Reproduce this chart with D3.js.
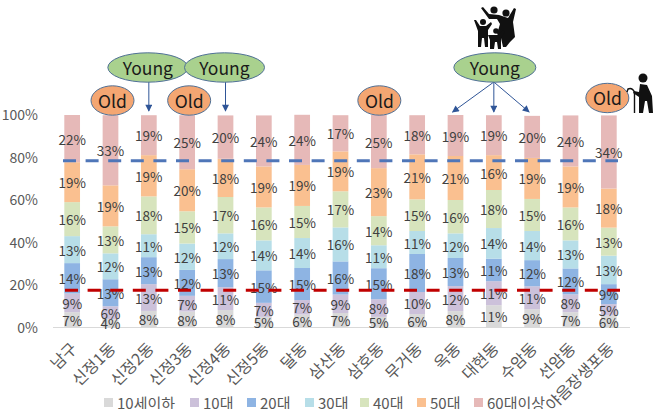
<!DOCTYPE html>
<html><head><meta charset="utf-8">
<script src="https://cdn.jsdelivr.net/npm/d3@7"></script>
<style>
html,body{margin:0;padding:0;background:#fff}
svg{display:block}
text{font-family:"Noto Sans CJK KR","Noto Sans",sans-serif}
</style></head><body>
<div id="chart"></div>
<script>
const categories=["남구","신정1동","신정2동","신정3동","신정4동","신정5동","달동","삼산동","삼호동","무거동","옥동","대현동","수암동","선암동","야음장생포동"];
const seriesNames=["10세이하","10대","20대","30대","40대","50대","60대이상"];
const seriesColors=["#D9D9D9","#CCC1DA","#8EB4E3","#B7DEE8","#D7E4BD","#FAC090","#E6B9B8"];
const under10=[7.2,3.9,7.8,7.5,8.2,5.0,6.1,6.8,5.0,6.3,7.7,10.5,8.6,7.2,5.6];
const teens=[8.8,6.1,12.6,7.4,10.8,6.6,6.8,8.7,8.3,10.4,11.8,11.3,10.8,8.4,5.4];
const twenties=[14.3,12.7,12.7,12.2,13.2,15.3,15.1,15.6,14.6,17.9,13.2,10.6,12.3,12.2,9.4];
const thirties=[12.7,12.2,10.8,12.4,12.1,14.1,14.1,16.0,10.8,10.8,11.6,14.4,13.7,13.2,13.4];
const forties=[16.0,12.7,17.8,15.2,17.1,15.5,15.1,17.0,13.7,14.9,15.7,17.9,15.1,15.5,13.2];
const fifties=[18.8,19.3,19.4,19.8,18.0,19.3,19.3,18.8,22.6,21.2,20.7,16.4,19.3,19.3,18.4];
const sixtyPlus=[22.2,33.0,18.8,25.4,20.4,24.0,23.6,17.0,25.0,18.4,19.3,18.8,19.8,24.0,34.4];
const seriesValues=[under10,teens,twenties,thirties,forties,fifties,sixtyPlus];
const yTicks=[0,20,40,60,80,100];
const youngLine=78.5, oldLine=17.5;
const oldMarks=["신정1동","신정3동","삼호동","야음장생포동"];
const youngMarks=["신정2동","신정4동"];
const youngGroupTargets=["옥동","대현동","수암동"];

const W=660,H=409;
const svg=d3.select("#chart").append("svg").attr("width",W).attr("height",H).attr("viewBox",`0 0 ${W} ${H}`);
const x=d3.scaleBand().domain(categories).range([53,628]).paddingInner(0.59).paddingOuter(0.295);
const y=d3.scaleLinear().domain([0,100]).range([327.5,115]);
const cx=c=>x(c)+x.bandwidth()/2;
const rows=categories.map((c,i)=>{const r={cat:c};seriesNames.forEach((s,j)=>r[s]=seriesValues[j][i]);return r;});
const stack=d3.stack().keys(seriesNames)(rows);

const gY=svg.append("g").attr("transform","translate(38,0.5)").call(d3.axisLeft(y).tickValues(yTicks).tickSize(0).tickPadding(0).tickFormat(d=>d+"%"));
gY.select(".domain").remove();
gY.selectAll("text").attr("font-size",14).attr("fill","#595959").style("font-family",'"Noto Sans CJK KR"');

const layers=svg.selectAll("g.layer").data(stack).join("g").attr("class","layer").attr("fill",(d,i)=>seriesColors[i]);
layers.selectAll("rect").data(d=>d).join("rect")
 .attr("x",d=>x(d.data.cat)).attr("width",x.bandwidth())
 .attr("y",d=>y(d[1])).attr("height",d=>y(d[0])-y(d[1]));

svg.append("line").attr("x1",53).attr("x2",630).attr("y1",y(0)).attr("y2",y(0)).attr("stroke","#D9D9D9").attr("stroke-width",1);

const gX=svg.append("g");
gX.selectAll("text").data(categories).join("text")
 .attr("transform",d=>`translate(${cx(d)+3},${y(0)+19}) rotate(-45)`)
 .attr("text-anchor","end").attr("dominant-baseline","middle")
 .attr("font-size",16).attr("fill","#595959").text(d=>d);

// data labels
const labels=svg.append("g");
stack.forEach(layer=>{
 labels.selectAll(null).data(layer).join("text")
  .attr("x",d=>cx(d.data.cat)).attr("y",d=>y((d[0]+d[1])/2))
  .attr("text-anchor","middle").attr("dominant-baseline","central")
  .attr("font-size",13.5).attr("fill","#404040")
  .text(d=>Math.round(d[1]-d[0])+"%");
});

// reference lines
svg.append("line").attr("x1",63).attr("x2",618).attr("y1",y(youngLine)).attr("y2",y(youngLine))
 .attr("stroke","#4F76B8").attr("stroke-width",3).attr("stroke-dasharray","13,9.6");
svg.append("line").attr("x1",65).attr("x2",620).attr("y1",y(oldLine)).attr("y2",y(oldLine))
 .attr("stroke","#C00000").attr("stroke-width",3).attr("stroke-dasharray","13,9.6");

// legend
const legendX=[104,190,247,305,360,417,474];
const leg=svg.append("g").selectAll("g").data(seriesNames).join("g").attr("transform",(d,i)=>`translate(${legendX[i]},402.5)`);
leg.append("rect").attr("y",-4.5).attr("width",9).attr("height",9).attr("fill",(d,i)=>seriesColors[i]);
leg.append("text").attr("x",13).attr("dominant-baseline","central").attr("font-size",15).attr("fill","#595959").text(d=>d);

// arrows
const defs=svg.append("defs");
defs.append("marker").attr("id","ah").attr("viewBox","0 0 10 10").attr("refX",9).attr("refY",5)
 .attr("markerWidth",8).attr("markerHeight",7).attr("markerUnits","userSpaceOnUse").attr("orient","auto")
 .append("path").attr("d","M0,0L10,5L0,10Z").attr("fill","#2F5597");
const arrow=(x1,y1,x2,y2)=>svg.append("line").attr("x1",x1).attr("y1",y1).attr("x2",x2).attr("y2",y2)
 .attr("stroke","#2F5597").attr("stroke-width",1).attr("marker-end","url(#ah)");
youngMarks.forEach(c=>arrow(cx(c),82,cx(c),111));
youngGroupTargets.forEach(c=>arrow(cx("대현동"),82,cx(c)+(c==="옥동"?-3:c==="수암동"?-3:0),112));

function bubble(cxv,cyv,rx,ry,fill,txt){
 svg.append("ellipse").attr("cx",cxv).attr("cy",cyv).attr("rx",rx).attr("ry",ry).attr("fill",fill).attr("stroke","#4F7096").attr("stroke-width",1);
 svg.append("text").attr("x",cxv).attr("y",cyv-0.5).attr("text-anchor","middle").attr("dominant-baseline","central").attr("font-size",17.5).attr("fill","#1a1a1a").text(txt);
}
oldMarks.forEach(c=>{
 const off=c==="야음장생포동"?-1.5:c==="삼호동"?0.5:2;
 const cyv=c==="야음장생포동"?98:100.5;
 bubble(cx(c)+off,cyv,21.5,14.7,"#F4A672","Old");
});
youngMarks.forEach(c=>bubble(cx(c)-1,67.5,40,14.7,"#A9D18E","Young"));
bubble(cx("대현동")+1,67.5,41,14.7,"#A9D18E","Young");

// family icon
const fam=svg.append("g").attr("fill","#111");
[[494,10,3.6],[506,13,3.6],[483,22,3],[496,31,2.8]].forEach(h=>fam.append("circle").attr("cx",h[0]).attr("cy",h[1]).attr("r",h[2]));
[
 "M481,8L483,7L489,14L499,15L508,18L514,8L516,9L513,22L515,37L510,42L506,47L503,47L501,38L497,34L500,24L497,19L489,19Z",
 "M474,20L476,20L480,26L486,26L491,22L492,24L488,30L488,47L485,47L484,38L482,38L481,47L478,47L478,31Z",
 "M488,35L493,35L498,35L503,30L505,32L501,38L501,49L498,49L497,42L495,42L494,49L490,49L490,40Z"
].forEach(d=>fam.append("path").attr("d",d));

// elderly icon
const old=svg.append("g");
old.append("circle").attr("cx",643).attr("cy",78).attr("r",4.5).attr("fill","#111");
old.append("path").attr("d","M640,84L647,85L652,96L653,113L649,113L647,101L645,101L643,113L639,113L639,97L633,93L634,91L639,92Z").attr("fill","#111");
old.append("path").attr("d","M634.5,113L634.5,92Q632,87 628,89L627,92").attr("fill","none").attr("stroke","#111").attr("stroke-width",1.4);
</script>
</body></html>
